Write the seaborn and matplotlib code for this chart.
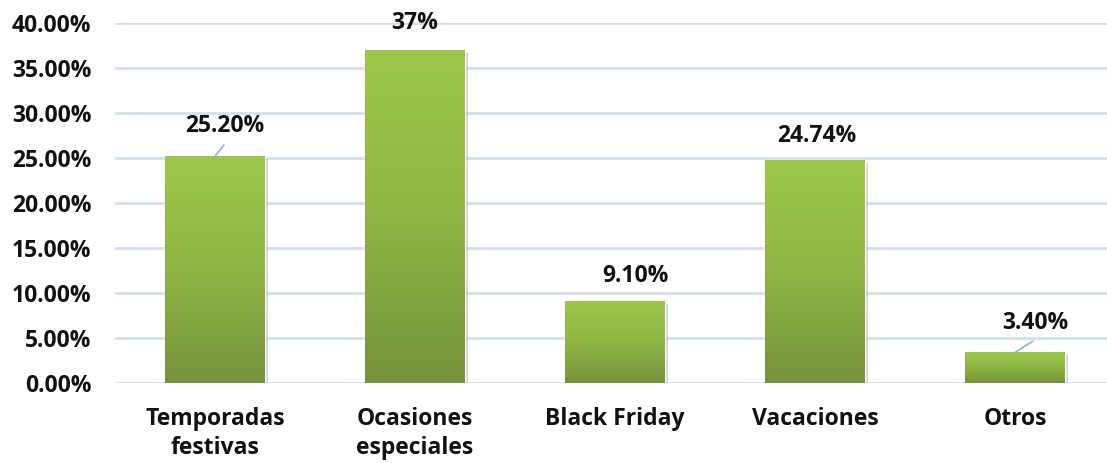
import numpy as np
import pandas as pd
import matplotlib
matplotlib.use("Agg")
import matplotlib.pyplot as plt
import matplotlib.patheffects as pe
from matplotlib.colors import LinearSegmentedColormap
from matplotlib.ticker import FuncFormatter
import seaborn as sns

categories = ["Temporadas\nfestivas", "Ocasiones\nespeciales", "Black Friday", "Vacaciones", "Otros"]
values = [25.20, 37.0, 9.10, 24.74, 3.40]
value_labels = ["25.20%", "37%", "9.10%", "24.74%", "3.40%"]
y_ticks = [0, 5, 10, 15, 20, 25, 30, 35, 40]

sns.set_theme(style="white")
plt.rcParams["font.family"] = ["Open Sans", "DejaVu Sans"]

df = pd.DataFrame({"categoria": categories, "valor": values})

fig = plt.figure(figsize=(11.07, 4.63), dpi=100)
ax = fig.add_axes([115 / 1107, 1 - 383 / 463, 1000 / 1107, 360 / 463])

sns.barplot(data=df, x="categoria", y="valor", color="#8db043", width=0.5,
            saturation=1, ax=ax, zorder=3)

ax.set_ylim(0, 40)
ax.set_xlim(-0.5, 4.5)
ax.set_yticks(y_ticks)
ax.yaxis.set_major_formatter(FuncFormatter(lambda v, _: f"{v:.2f}%"))
ax.grid(axis="y", color="#d5dff0", linewidth=2, zorder=0)
ax.grid(axis="x", visible=False)
for s in ax.spines.values():
    s.set_visible(False)
ax.set_xlabel("")
ax.set_ylabel("")
ax.tick_params(axis="y", length=0, pad=17, labelsize=16.5)
ax.tick_params(axis="x", length=0, pad=17, labelsize=16.5)
for lbl in ax.get_yticklabels() + ax.get_xticklabels():
    lbl.set_fontweight("bold")
    lbl.set_color("#111111")
for lbl in ax.get_xticklabels():
    lbl.set_linespacing(1.3)

# vertical green gradient inside each bar, with a soft drop shadow
cmap = LinearSegmentedColormap.from_list("verde", ["#9dc74b", "#8fb544", "#76923c"])
grad = np.linspace(0, 1, 256).reshape(-1, 1)
for patch in ax.patches:
    x0 = patch.get_x()
    w = patch.get_width()
    h = patch.get_height()
    patch.set_path_effects([pe.SimplePatchShadow(offset=(2, -2), shadow_rgbFace="#888888", alpha=0.35),
                            pe.Normal()])
    im = ax.imshow(grad, extent=(x0, x0 + w, 0, h), cmap=cmap, aspect="auto",
                   origin="upper", zorder=4, interpolation="bicubic")
    im.set_clip_path(patch)

# value labels (x offset in category units, y offset in percent)
offsets = [(0.05, 3.3), (0.0, 3.0), (0.1, 2.8), (0.01, 2.7), (0.1, 3.3)]
leaders = [True, False, False, False, True]
for i, (v, txt, (dx, dy), lead) in enumerate(zip(values, value_labels, offsets, leaders)):
    ax.text(i + dx, v + dy, txt, ha="center", va="center", fontsize=16.5,
            fontweight="bold", color="#111111", zorder=6, clip_on=False)
    if lead:
        ax.plot([i, i + dx * 0.9], [v, v + dy * 0.38], color="#8db3e2",
                linewidth=1.2, zorder=5, clip_on=False)

ax.set_xlim(-0.5, 4.5)
ax.set_ylim(0, 40)
fig.savefig("out.png", dpi=100)
